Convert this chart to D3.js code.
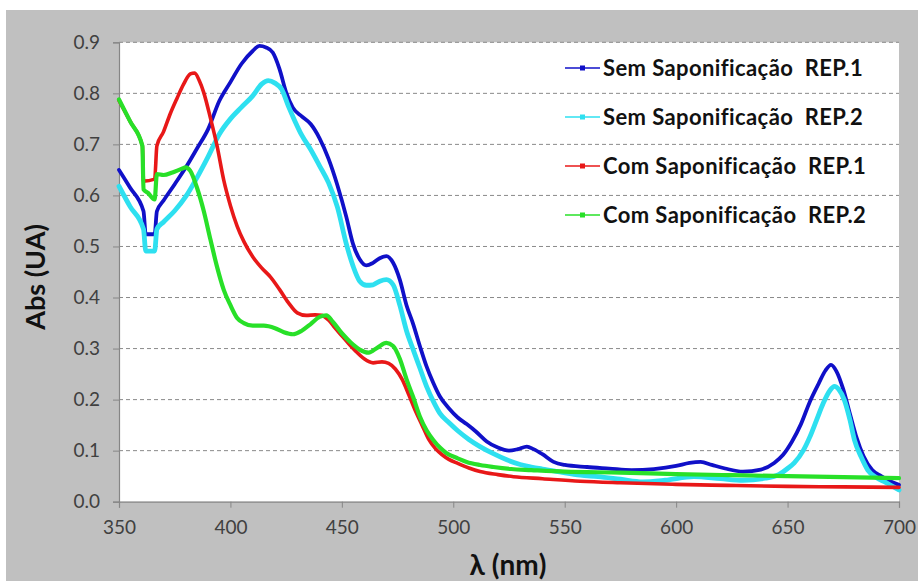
<!DOCTYPE html>
<html><head><meta charset="utf-8">
<script src="https://cdn.jsdelivr.net/npm/d3@7"></script>
<style>html,body{margin:0;padding:0;background:#fff;}svg{display:block;}</style>
</head><body>
<svg id="c" width="918" height="581"></svg>
<script>
// ---- data ----
const seriesNames = ["Sem Saponificação  REP.1","Sem Saponificação  REP.2","Com Saponificação  REP.1","Com Saponificação  REP.2"];
const seriesColors = ["#1010c8","#2ee0f0","#e81818","#28e028"];
const xTicks = [350,400,450,500,550,600,650,700];
const yTicks = [0.0,0.1,0.2,0.3,0.4,0.5,0.6,0.7,0.8,0.9];

const semRep1 = [[350,0.650],[355,0.615],[361,0.569],[362,0.524],[366,0.524],[367,0.569],[370,0.590],[375,0.622],[380,0.655],[385,0.692],[390,0.730],[395,0.785],[400,0.822],[405,0.858],[410,0.883],[413,0.893],[416,0.890],[419,0.880],[422,0.848],[425,0.802],[428,0.772],[432,0.755],[436,0.740],[440,0.712],[444,0.672],[448,0.620],[452,0.558],[455,0.505],[458,0.475],[461,0.463],[464,0.468],[467,0.477],[470,0.481],[473,0.468],[476,0.435],[479,0.385],[482,0.348],[485,0.305],[488,0.265],[491,0.233],[494,0.206],[498,0.183],[502,0.165],[506,0.152],[510,0.138],[515,0.118],[520,0.106],[525,0.100],[529,0.103],[533,0.108],[536,0.103],[540,0.093],[545,0.078],[550,0.072],[560,0.068],[570,0.065],[580,0.062],[590,0.064],[600,0.070],[606,0.076],[611,0.078],[616,0.072],[622,0.065],[630,0.059],[638,0.063],[644,0.076],[648,0.092],[652,0.118],[656,0.152],[660,0.196],[664,0.232],[667,0.257],[669.5,0.268],[672,0.255],[675,0.220],[678,0.172],[681,0.125],[684,0.090],[688,0.062],[692,0.050],[696,0.040],[700,0.033]];

const semRep2 = [[350,0.618],[355,0.578],[361,0.534],[362,0.491],[366,0.491],[367,0.534],[370,0.548],[375,0.570],[380,0.598],[385,0.635],[390,0.676],[395,0.720],[400,0.750],[405,0.773],[410,0.795],[414,0.818],[417,0.825],[420,0.820],[423,0.808],[426,0.775],[429,0.745],[432,0.718],[436,0.690],[440,0.658],[444,0.625],[448,0.577],[452,0.505],[455,0.462],[458,0.432],[461,0.424],[464,0.425],[467,0.432],[470,0.435],[473,0.425],[476,0.385],[479,0.335],[482,0.298],[485,0.262],[488,0.226],[491,0.197],[494,0.173],[498,0.155],[502,0.139],[507,0.122],[512,0.108],[518,0.094],[524,0.082],[530,0.073],[535,0.068],[540,0.064],[547,0.059],[557,0.052],[565,0.049],[575,0.044],[585,0.039],[595,0.042],[608,0.049],[620,0.045],[630,0.042],[640,0.046],[646,0.053],[650,0.065],[653,0.076],[657,0.100],[660,0.127],[663,0.160],[666,0.193],[669,0.218],[671,0.226],[673,0.220],[675.5,0.199],[678,0.160],[680,0.121],[683,0.088],[686,0.062],[690,0.047],[694,0.038],[700,0.023]];

const comRep1 = [[350,0.786],[355,0.745],[360.5,0.697],[361,0.628],[366,0.632],[367,0.697],[370,0.725],[373,0.760],[376,0.790],[379,0.818],[382,0.838],[384,0.840],[386,0.825],[388,0.802],[391,0.752],[394,0.697],[397,0.630],[400,0.580],[403,0.540],[406,0.510],[410,0.480],[414,0.458],[418,0.440],[422,0.416],[426,0.390],[430,0.370],[434,0.365],[438,0.366],[441,0.365],[444,0.356],[447,0.340],[450,0.325],[453,0.310],[456,0.296],[460,0.280],[464,0.272],[468,0.274],[471,0.271],[474,0.260],[477,0.240],[480,0.210],[483,0.178],[486,0.150],[489,0.122],[492,0.104],[495,0.092],[498,0.083],[502,0.075],[507,0.066],[512,0.059],[520,0.053],[527,0.049],[540,0.045],[557,0.040],[575,0.037],[600,0.034],[623,0.032],[650,0.030],[675,0.029],[700,0.028]];

const comRep2 = [[350,0.788],[355,0.745],[360.5,0.697],[361,0.612],[363,0.605],[366,0.592],[367,0.642],[370,0.640],[374,0.645],[378,0.652],[380,0.655],[382,0.648],[385,0.615],[388,0.570],[391,0.514],[394,0.460],[397,0.415],[400,0.385],[403,0.360],[406,0.350],[410,0.345],[415,0.345],[420,0.340],[424,0.332],[428,0.328],[432,0.335],[436,0.348],[440,0.362],[443,0.365],[446,0.352],[450,0.330],[454,0.312],[458,0.298],[462,0.292],[466,0.302],[470,0.311],[473,0.305],[476,0.280],[479,0.240],[482,0.205],[485,0.167],[488,0.140],[491,0.121],[494,0.106],[497,0.095],[502,0.085],[506,0.078],[512,0.072],[518,0.068],[526,0.064],[535,0.062],[550,0.059],[575,0.057],[600,0.054],[625,0.052],[650,0.050],[675,0.048],[700,0.046]];

const allSeries = [semRep1, semRep2, comRep1, comRep2];

// ---- layout ----
const svg = d3.select("#c");
const font = "Lato, 'Open Sans', sans-serif";
const L = 119, R = 899, T = 42.3, B = 501.7;
svg.append("rect").attr("x",6).attr("y",10).attr("width",912).attr("height",571).attr("fill","#c0c0c0");
svg.append("rect").attr("x",L).attr("y",T).attr("width",R-L).attr("height",B-T).attr("fill","#ffffff");

const x = d3.scaleLinear().domain([350,700]).range([L,R]);
const y = d3.scaleLinear().domain([0,0.9]).range([B,T]);

// gridlines
svg.append("g").selectAll("line").data(yTicks.filter(v=>v>0)).join("line")
  .attr("x1",L).attr("x2",R).attr("y1",d=>y(d)).attr("y2",d=>y(d))
  .attr("stroke","#8a8a8a").attr("stroke-width",1).attr("stroke-dasharray","4,3");

// axes
const yAxis = d3.axisLeft(y).tickValues(yTicks).tickFormat(d3.format(".1f")).tickSize(6).tickPadding(13);
const gy = svg.append("g").attr("transform",`translate(${L},0)`).call(yAxis);
const xAxis = d3.axisBottom(x).tickValues(xTicks).tickFormat(d3.format("d")).tickSize(6).tickPadding(13);
const gx = svg.append("g").attr("transform",`translate(0,${B})`).call(xAxis);
[gx,gy].forEach(g=>{
  g.select(".domain").attr("stroke","#868686").attr("stroke-width",1.2);
  g.selectAll(".tick line").attr("stroke","#868686");
  g.selectAll(".tick text").attr("font-family",font).attr("font-size",19).attr("fill","#404040");
});

// series
const line = d3.line().x(d=>x(d[0])).y(d=>y(d[1])).curve(d3.curveMonotoneX);
const widths = [3.8,4.8,3.6,4.2];
allSeries.forEach((s,i)=>{
  svg.append("path").datum(s).attr("d",line).attr("fill","none")
    .attr("stroke",seriesColors[i]).attr("stroke-width",widths[i])
    .attr("stroke-linejoin","round").attr("stroke-linecap","round");
});

// legend
const lg = svg.append("g");
seriesNames.forEach((n,i)=>{
  const yy = 68 + i*49;
  lg.append("line").attr("x1",565).attr("x2",600).attr("y1",yy).attr("y2",yy).attr("stroke",seriesColors[i]).attr("stroke-width",1.5);
  lg.append("rect").attr("x",580).attr("y",yy-2.5).attr("width",5).attr("height",5).attr("fill",seriesColors[i]);
  lg.append("text").attr("x",603).attr("y",yy+7.5).attr("font-family",font).attr("font-weight","bold")
    .attr("font-size",22).attr("letter-spacing",0.4).attr("fill","#111").attr("xml:space","preserve").style("white-space","pre").text(n);
});

// axis titles
svg.append("text").attr("transform","translate(45,277) rotate(-90)").attr("text-anchor","middle")
  .attr("font-family",font).attr("font-weight","bold").attr("font-size",27).attr("fill","#111").text("Abs (UA)");
svg.append("text").attr("x",508).attr("y",575).attr("text-anchor","middle")
  .attr("font-family",font).attr("font-weight","bold").attr("font-size",28).attr("fill","#111").text("λ (nm)");
</script>
</body></html>
